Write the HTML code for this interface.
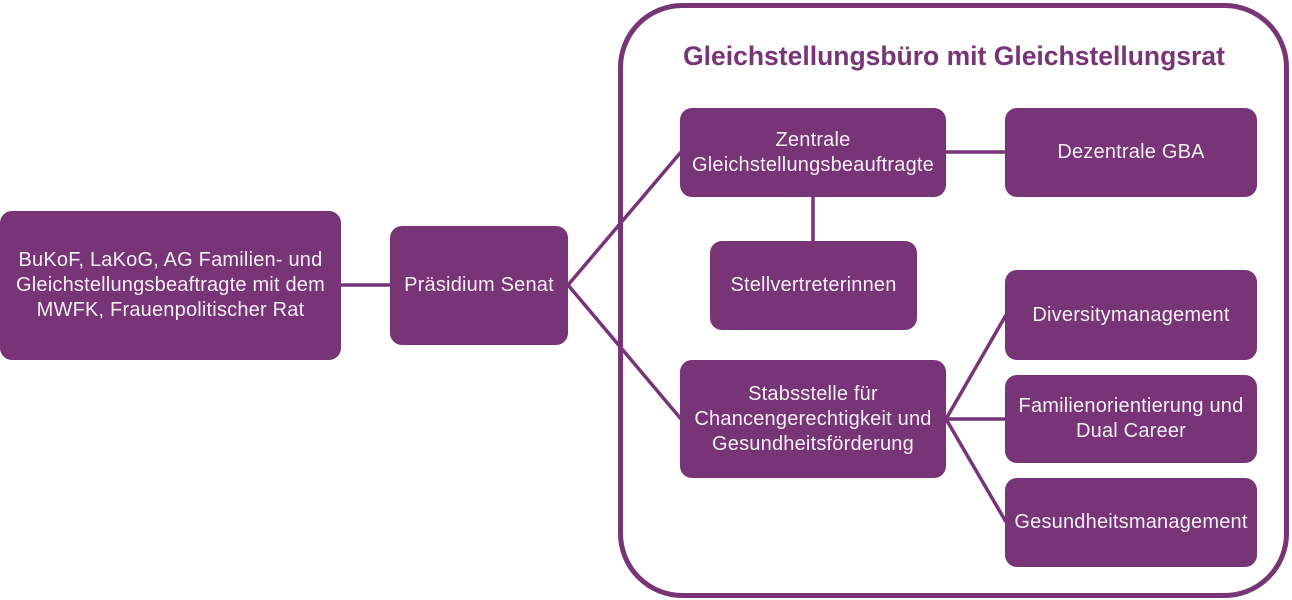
<!DOCTYPE html>
<html><head><meta charset="utf-8"><style>
html,body{margin:0;padding:0;background:#fff;width:1292px;height:600px;overflow:hidden;position:relative;font-family:"Liberation Sans",sans-serif}
.b{position:absolute;background:#773476;border-radius:12px;color:#f4eef4;font-size:20px;letter-spacing:0.2px;line-height:25px;display:flex;align-items:center;justify-content:center;text-align:center;white-space:nowrap}
svg{position:absolute;left:0;top:0}
</style></head><body>
<svg width="1292" height="600">
<rect x="620.5" y="5.5" width="666" height="590" rx="62" fill="none" stroke="#773476" stroke-width="5"/>
<g stroke="#773476" stroke-width="3.5" fill="none">
<line x1="341" y1="285" x2="390" y2="285"/>
<line x1="568" y1="285" x2="681" y2="152"/>
<line x1="568" y1="285" x2="681" y2="419"/>
<line x1="946" y1="152" x2="1005" y2="152"/>
<line x1="813" y1="197" x2="813" y2="241"/>
<line x1="946" y1="419" x2="1006" y2="315"/>
<line x1="946" y1="419" x2="1005" y2="419"/>
<line x1="946" y1="419" x2="1006" y2="522"/>
</g>
<text x="954" y="65" text-anchor="middle" font-family="Liberation Sans" font-weight="bold" font-size="26.5" fill="#773476">Gleichstellungsbüro mit Gleichstellungsrat</text>
</svg>
<div class="b" style="left:0;top:211px;width:341px;height:149px">BuKoF, LaKoG, AG Familien- und<br>Gleichstellungsbeaftragte mit dem<br>MWFK, Frauenpolitischer Rat</div>
<div class="b" style="left:390px;top:226px;width:178px;height:119px">Präsidium Senat</div>
<div class="b" style="left:680px;top:108px;width:266px;height:89px">Zentrale<br>Gleichstellungsbeauftragte</div>
<div class="b" style="left:1005px;top:108px;width:252px;height:89px">Dezentrale GBA</div>
<div class="b" style="left:710px;top:241px;width:207px;height:89px">Stellvertreterinnen</div>
<div class="b" style="left:680px;top:360px;width:266px;height:118px">Stabsstelle für<br>Chancengerechtigkeit und<br>Gesundheitsförderung</div>
<div class="b" style="left:1005px;top:270px;width:252px;height:90px">Diversitymanagement</div>
<div class="b" style="left:1005px;top:375px;width:252px;height:88px">Familienorientierung und<br>Dual Career</div>
<div class="b" style="left:1005px;top:478px;width:252px;height:89px">Gesundheitsmanagement</div>
</body></html>
